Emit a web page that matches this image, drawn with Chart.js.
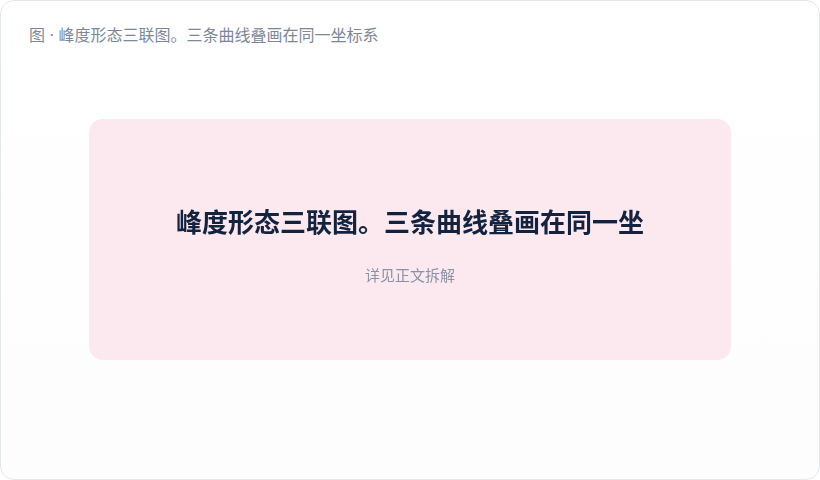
<!DOCTYPE html>
<html><head><meta charset="utf-8">
<script src="https://cdn.jsdelivr.net/npm/chart.js@4.4.0/dist/chart.umd.min.js"></script>
<style>
html,body{margin:0;padding:0;background:#fff;}
body{width:820px;height:480px;overflow:hidden;font-family:Inter,"Noto Sans CJK SC",sans-serif;}
.card{position:absolute;left:0;top:0;width:818px;height:478px;border:1px solid #e3e7ee;border-radius:14px;background:linear-gradient(#ffffff,#fdfdfe);}
.cap{position:absolute;left:28px;top:23px;font-size:16px;line-height:22px;color:#7d889a;white-space:nowrap;}
.ph{position:absolute;left:88px;top:118px;width:642px;height:241px;background:#fce8ef;border-radius:14px;}
.ph canvas{position:absolute;left:0;top:0;}
.t{position:absolute;left:0;right:0;top:85px;text-align:center;font-size:26px;line-height:34px;font-weight:700;color:#13233f;white-space:nowrap;font-family:"Noto Sans CJK SC",sans-serif;}
.s{position:absolute;left:0;right:0;top:146px;text-align:center;font-size:15px;line-height:22px;color:#8a93a5;white-space:nowrap;}
</style></head>
<body>
<div class="card">
  <div class="cap" id="cap"></div>
  <div class="ph">
    <canvas id="c" width="642" height="241"></canvas>
    <div class="t" id="t"></div>
    <div class="s" id="s"></div>
  </div>
</div>
<script>
const caption = "图 · 峰度形态三联图。三条曲线叠画在同一坐标系";
const title = "峰度形态三联图。三条曲线叠画在同一坐";
const subtitle = "详见正文拆解";
const categories = [];
const seriesValues = [];
document.getElementById('cap').textContent = caption;
document.getElementById('t').textContent = title;
document.getElementById('s').textContent = subtitle;
new Chart(document.getElementById('c'), {
  type: 'line',
  data: { labels: categories, datasets: [{ data: seriesValues, borderColor: 'rgba(0,0,0,0)' }] },
  options: {
    responsive: false, animation: false,
    plugins: { legend: { display: false }, tooltip: { enabled: false } },
    scales: { x: { display: false }, y: { display: false } }
  }
});
</script>
</body></html>
